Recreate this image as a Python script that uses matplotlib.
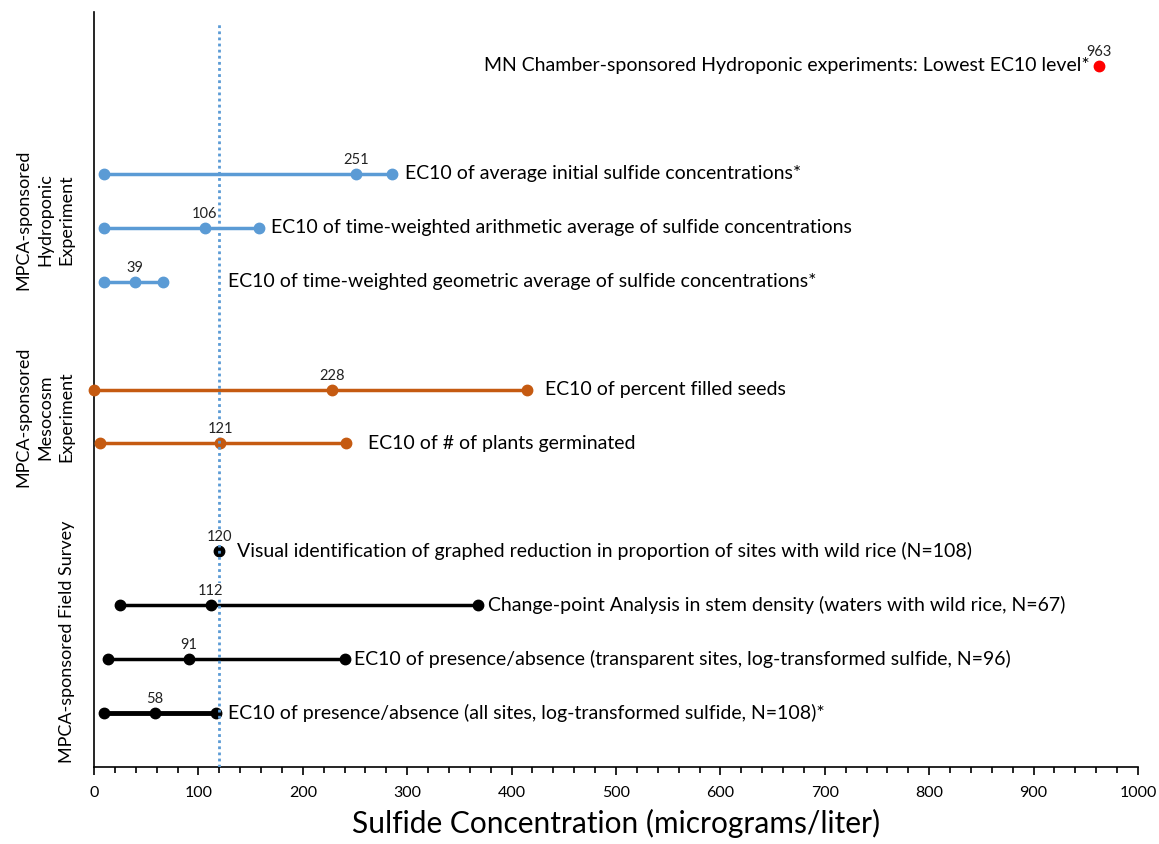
import numpy as np
import matplotlib
matplotlib.use("Agg")
import matplotlib.pyplot as plt

plt.rcParams['font.family'] = ['Lato', 'DejaVu Sans']

# ============================================
# DADOS
# ============================================

rotulos = [
    "MN Chamber-sponsored Hydroponic experiments: Lowest EC10 level*",
    "EC10 of average initial sulfide concentrations*",
    "EC10 of time-weighted arithmetic average of sulfide concentrations",
    "EC10 of time-weighted geometric average of sulfide concentrations*",
    "EC10 of percent filled seeds",
    "EC10 of # of plants germinated",
    "Visual identification of graphed reduction in proportion of sites with wild rice (N=108)",
    "Change-point Analysis in stem density (waters with wild rice, N=67)",
    "EC10 of presence/absence (transparent sites, log-transformed sulfide, N=96)",
    "EC10 of presence/absence (all sites, log-transformed sulfide, N=108)*",
]
linha = [13, 11, 10, 9, 7, 6, 4, 3, 2, 1]
ec10 = [963, 251, 106, 39, 228, 121, 120, 112, 91, 58]
inferior = [None, 10, 10, 10, 0, 6, None, 25, 13, 10]
superior = [None, 285, 158, 66, 415, 241, None, 368, 240, 117]
grupo = ['mn', 'hidro', 'hidro', 'hidro', 'meso', 'meso', 'campo', 'campo', 'campo', 'campo']

limiar = 120

grupos_texto = ["MPCA-sponsored\nHydroponic\nExperiment",
                "MPCA-sponsored\nMesocosm\nExperiment",
                "MPCA-sponsored Field Survey"]

# estilos
cores = {'mn': '#FF0000', 'hidro': '#5B9BD5', 'meso': '#C55A11', 'campo': '#000000'}
desloc_texto = [-10, 13, 12, 65, 18, 22, 18, 10, 9, 12]  # pixels
largura = [2.5, 2.5, 2.5, 2.5, 2.5, 2.5, 2.5, 2.5, 2.5, 3.5]

# ============================================
# GRÁFICO
# ============================================

fig = plt.figure(figsize=(11.59, 8.44), dpi=100)
ax = fig.add_axes([94 / 1159, 77 / 844, 1044 / 1159, 755 / 844])

for i in range(len(ec10)):
    cor = cores[grupo[i]]
    y = linha[i]
    if inferior[i] is None:
        xs = [ec10[i]]
    else:
        xs = [inferior[i], ec10[i], superior[i]]
    ax.plot(xs, [y] * len(xs), '-o', color=cor, lw=largura[i], ms=7.5,
            zorder=3, clip_on=False)

    # valor do EC10
    ax.annotate(str(ec10[i]), (ec10[i], y), xytext=(0, 7), textcoords='offset pixels',
                ha='center', va='bottom', fontsize=10.5, color='#222222', zorder=5,
                bbox=dict(boxstyle='square,pad=0.05', facecolor='white', edgecolor='none'))

    # descrição
    fim = ec10[i] if superior[i] is None else superior[i]
    ha = 'right' if desloc_texto[i] < 0 else 'left'
    ax.annotate(rotulos[i], (fim, y), xytext=(desloc_texto[i], 0), textcoords='offset pixels',
                ha=ha, va='center', fontsize=14, color='black', zorder=5)

# linha pontilhada do limiar
ax.axvline(limiar, ymin=0, ymax=0.987, color='#5B9BD5', lw=2, ls=(0, (1, 1.2)), zorder=4)

ax.set_xlim(0, 1000)
ax.set_ylim(0, 14)
ax.set_xticks(np.arange(0, 1001, 100))
ax.set_xticks(np.arange(0, 1001, 20), minor=True)
ax.tick_params(axis='x', which='major', direction='out', length=6, width=1.2, labelsize=11.5,
               colors='black', pad=8)
ax.tick_params(axis='x', which='minor', direction='out', length=4, width=1.2)
ax.set_yticks([])
for lado in ['top', 'right']:
    ax.spines[lado].set_visible(False)
ax.spines['left'].set_linewidth(1.2)
ax.spines['bottom'].set_linewidth(1.2)

ax.set_xlabel('Sulfide Concentration (micrograms/liter)', fontsize=21.5, labelpad=6)

# rótulos dos grupos
fig.text(45 / 1159, 1 - 220 / 844, grupos_texto[0], rotation=90, ha='center', va='center',
         fontsize=13, linespacing=1.45, multialignment='center')
fig.text(45 / 1159, 1 - 417 / 844, grupos_texto[1], rotation=90, ha='center', va='center',
         fontsize=13, linespacing=1.45, multialignment='center')
fig.text(67 / 1159, 1 - 642 / 844, grupos_texto[2], rotation=90, ha='center', va='center',
         fontsize=13)

fig.savefig('out.png', dpi=100)
